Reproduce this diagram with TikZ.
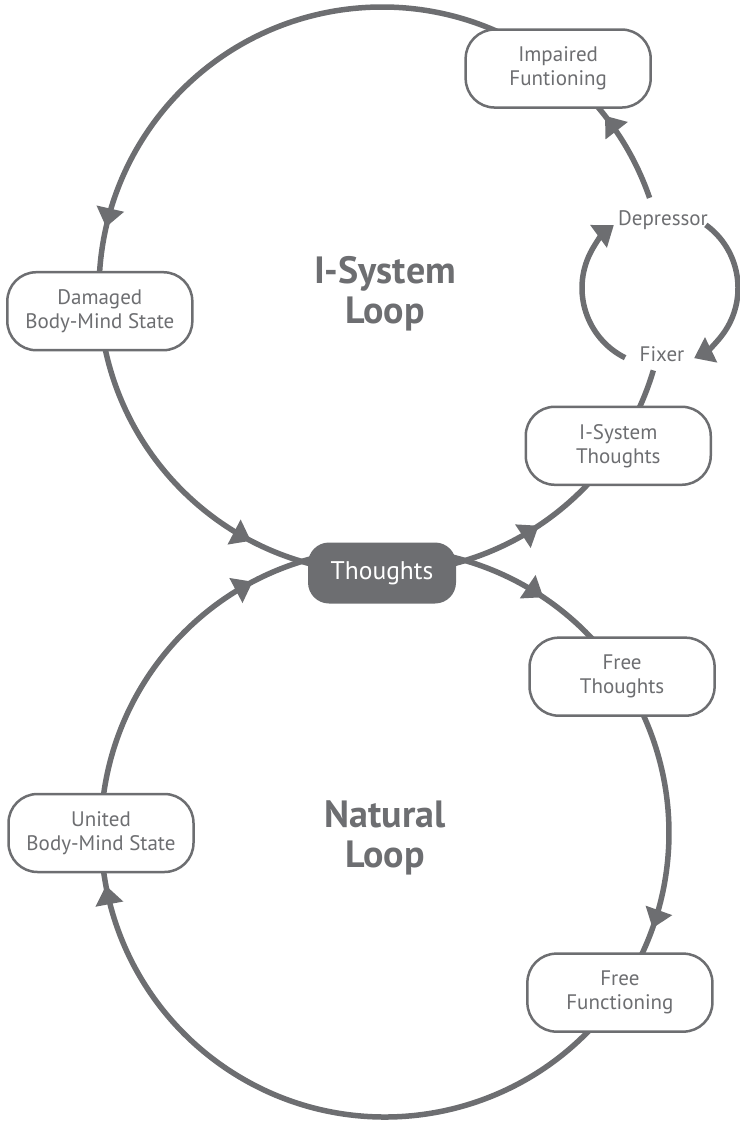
\documentclass[tikz,border=0pt]{standalone}
\usepackage{fontspec}
\setmainfont{PT Sans}
\usetikzlibrary{arrows.meta,decorations.markings,calc,backgrounds}

\definecolor{loopgray}{HTML}{6D6E71}

\tikzset{
  flow/.style={color=loopgray, line width=5.5pt},
  headtip/.tip={Triangle[length=19pt,width=27pt]},
  midarrow/.style={postaction={decorate},
    decoration={markings, mark=at position #1 with {\arrow{headtip}}}},
  tiparrow/.style={-headtip},
  stagebox/.style={draw=loopgray, line width=2.5pt, fill=white,
    rounded corners=29pt, minimum width=185pt, minimum height=78pt,
    inner sep=0pt, align=center, text=loopgray,
    font=\fontsize{21}{24}\selectfont},
  hubbox/.style={fill=loopgray, rounded corners=21pt, minimum width=148pt,
    minimum height=61pt, inner sep=0pt, text=white,
    font=\fontsize{25.5}{30}\selectfont},
  looptitle/.style={text=loopgray, align=center,
    font=\fontsize{38}{40}\selectfont\bfseries},
  cyclelabel/.style={text=loopgray, inner sep=1pt,
    font=\fontsize{21}{24}\selectfont},
}

\begin{document}
\begin{tikzpicture}[x=1pt, y=1pt]
\useasboundingbox (0,0) rectangle (739,-1121);

% centres of the two loops and of the small fixer/depressor cycle
\coordinate (cU) at (382,-290);
\coordinate (cL) at (385,-833);
\coordinate (cS) at (660,-288);

% stages on the I-System loop
\node[stagebox] (imp) at ($(cU)+(51.5:283)$) {Impaired\\Funtioning};
\node[stagebox] (dam) at ($(cU)+(184.3:283)$) {Damaged\\Body-Mind State};
\node[hubbox]   (tho) at ($(cU)+(270:283)$) {Thoughts};
\node[stagebox] (ist) at ($(cU)+(-33.4:283)$) {I-System\\Thoughts};
\node[cyclelabel] (fix) at (662,-354) {Fixer};
\node[cyclelabel] (dep) at (663,-220) {Depressor};

% stages on the natural loop
\node[stagebox] (fth) at ($(cL)+(33.4:284)$) {Free\\Thoughts};
\node[stagebox] (ffn) at ($(cL)+(-34.2:284)$) {Free\\Functioning};
\node[stagebox] (ubm) at ($(cL)+(180:284)$) {United\\Body-Mind State};

% loop titles
\node[looptitle] (tI) at (385,-294) {I-System\\Loop};
\node[looptitle] (tN) at (385,-838) {Natural\\Loop};

% free ends of the connectors
\coordinate (fixLow) at ($(cU)+(-16.5:283)$);
\coordinate (depHigh) at ($(cU)+(19:283)$);
\coordinate (thoR) at ($(cL)+(80:284)$);
\coordinate (fixW) at ($(cS)+(243.4:78)$);
\coordinate (depE) at ($(cS)+(54:78)$);

\begin{scope}[on background layer]
  % I-System loop
  \draw[flow, midarrow=0.871] (imp.center) arc[start angle=51.5, end angle=184.3, radius=283];
  \draw[flow, midarrow=0.678] (dam.center) arc[start angle=184.3, end angle=270, radius=283];
  \draw[flow, midarrow=0.594] (tho.center) arc[start angle=270, end angle=326.6, radius=283];
  \draw[flow] (ist.center) arc[start angle=326.6, end angle=343.5, radius=283];
  \draw[flow, midarrow=0.585] (depHigh) arc[start angle=19, end angle=51.5, radius=283];
  % fixer / depressor cycle
  \draw[flow, tiparrow] (fixW) arc[start angle=243.4, end angle=126.3, radius=78];
  \draw[flow, tiparrow] (depE) arc[start angle=54, end angle=-64.1, radius=78];
  % natural loop
  \draw[flow, midarrow=0.513] (thoR) arc[start angle=80, end angle=33.4, radius=284];
  \draw[flow, midarrow=0.784] (fth.center) arc[start angle=33.4, end angle=-34.2, radius=284];
  \draw[flow, midarrow=0.927] (ffn.center) arc[start angle=-34.2, end angle=-180, radius=284];
  \draw[flow, midarrow=0.778] (ubm.center) arc[start angle=180, end angle=100, radius=284];
\end{scope}
\end{tikzpicture}
\end{document}
